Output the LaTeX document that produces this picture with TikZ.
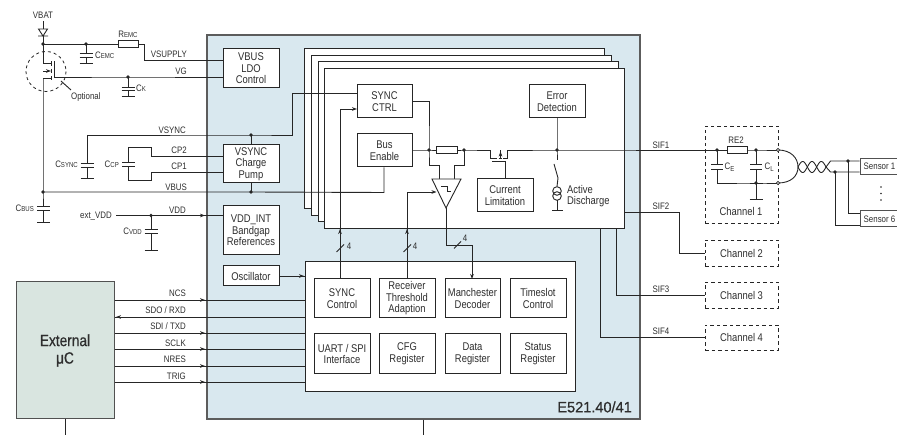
\documentclass[tikz,border=0pt]{standalone}
\usepackage{fontspec}
\setmainfont[FakeStretch=0.84]{Liberation Sans}
\newfontfamily\partfont[FakeStretch=0.97,FakeBold=0.7]{Liberation Sans}
\newfontfamily\ucfont[FakeStretch=0.84,FakeBold=0.6]{Liberation Sans}
\usetikzlibrary{arrows.meta}
\definecolor{ink}{HTML}{262626}
\definecolor{txt}{HTML}{2E2E2E}
\definecolor{chipblue}{HTML}{D9E8EF}
\definecolor{ucgreen}{HTML}{D9E5E0}
\newcommand\fbig{\fontsize{11.2}{11.6}\selectfont}
\newcommand\flab{\fontsize{9.4}{10}\selectfont}
\newcommand\fsub{\fontsize{7.2}{7}\selectfont}
\newcommand\capname[2]{#1{\fsub #2}}
\newcommand\lowname[2]{#1\raisebox{-1.5pt}{\fsub #2}}
% box by corners
\newcommand\bx[7][blockbox]{%
  \pgfmathsetmacro\bxw{#5-#3}\pgfmathsetmacro\bxh{#6-#4}%
  \pgfmathsetmacro\bxcx{(#5+#3)/2}\pgfmathsetmacro\bxcy{(#6+#4)/2}%
  \node[#1,minimum width=\bxw pt,minimum height=\bxh pt] (#2) at (\bxcx,\bxcy) {#7};}
\newcommand\jn[3]{\coordinate (#1) at (#2,#3); \fill[ink] (#1) circle (1.8);}
% capacitor to ground: x, start y, plate y1, plate y2, ground y, half width
\newcommand\capg[6]{\draw[wire] (#1,#2)--(#1,#3) ({#1-#6},#3)--({#1+#6},#3) ({#1-#6},#4)--({#1+#6},#4) (#1,#4)--(#1,#5) ({#1-#6},#5)--({#1+#6},#5);}
\tikzset{
  wire/.style={draw=ink,line width=0.9pt},
  blockbox/.style={draw=ink,line width=1pt,fill=white,align=center,inner sep=0pt,text=txt,font=\fbig},
  sheet/.style={draw=ink,line width=1pt,fill=white,inner sep=0pt},
  chan/.style={draw=ink,line width=0.9pt,dash pattern=on 3.5pt off 3pt,inner sep=0pt,align=center,text=txt,font=\fbig},
  sensorbox/.style={draw=ink!80,line width=1pt,fill=white,inner sep=0pt,text=txt,font=\flab},
  lab/.style={text=txt,font=\flab,inner sep=0pt},
  tip/.style={-{Stealth[length=5pt,width=3.6pt]},draw=ink,line width=0.9pt},
}
\begin{document}
\begin{tikzpicture}[x=1pt,y=-1pt]
\useasboundingbox (0,0) rectangle (897,435);
% background blocks
\bx[draw=ink!75,line width=1.1pt,fill=chipblue,inner sep=0pt]{chip}{207}{35}{640}{419}{}
\bx[draw=ink!80,line width=1pt,fill=ucgreen,inner sep=0pt,align=center,text=txt,font=\ucfont\fontsize{16.3}{17.5}\selectfont]{uc}{16}{282}{114}{419}{External\\μC}
\bx[sheet]{s1}{304}{49}{604}{209}{}
\bx[sheet]{s2}{311}{56}{611}{216}{}
\bx[sheet]{s3}{318}{62}{618}{222}{}
\bx[sheet]{s4}{324}{69}{624}{229}{}
\bx[sheet]{inner}{305}{262}{575}{392}{}
% coordinates and dots
\jn{jtop}{43}{44}\jn{jemc}{86}{44}\jn{jvg}{128}{77}\jn{jbus}{43}{192}
\jn{jsync}{251}{135}\jn{jvbus}{251}{192}\jn{jvdd}{151}{215.5}
\jn{ja}{429}{150}\jn{jb}{464}{150}\jn{jc}{557}{150}
\jn{jd}{717}{150}\jn{je}{756}{150}\jn{jf}{756}{183}
\jn{jg}{848}{161}\jn{jh}{835}{172}
% blocks on the chip
\bx{ldo}{223}{49}{279}{88}{VBUS\\LDO\\Control}
\bx{pump}{223}{145}{279}{183}{VSYNC\\Charge\\Pump}
\bx{vint}{223}{206}{279}{255}{VDD\_INT\\Bandgap\\References}
\bx{osc}{223}{266}{279}{286}{Oscillator}
\bx{sctrl}{357}{85}{412}{118}{SYNC\\CTRL}
\bx{busen}{357}{134}{412}{167}{Bus\\Enable}
\bx{err}{529}{85}{585}{118}{Error\\Detection}
\bx{curr}{477}{179}{533}{212}{Current\\Limitation}
\bx{b11}{314}{279}{370}{318}{SYNC\\Control}
\bx{b12}{379}{279}{435}{318}{Receiver\\Threshold\\Adaption}
\bx{b13}{445}{279}{500}{318}{Manchester\\Decoder}
\bx{b14}{510}{279}{566}{318}{Timeslot\\Control}
\bx{b21}{314}{334}{370}{374}{UART / SPI\\Interface}
\bx{b22}{379}{334}{435}{374}{CFG\\Register}
\bx{b23}{445}{334}{500}{374}{Data\\Register}
\bx{b24}{510}{334}{566}{374}{Status\\Register}
% channels and sensors
\bx[chan]{ch1}{705}{126}{778}{223}{}
\bx[chan]{ch2}{705}{240}{778}{266}{Channel 2}
\bx[chan]{ch3}{705}{282}{778}{308}{Channel 3}
\bx[chan]{ch4}{705}{325}{778}{350}{Channel 4}
\bx[sensorbox]{sen1}{860}{158.5}{899}{175}{Sensor 1}
\bx[sensorbox]{sen6}{860}{211}{899}{227}{Sensor 6}
% supply section
\coordinate (dtop) at (43,21);
\node[draw=ink,line width=0.9pt,fill=white,minimum width=20pt,minimum height=6.5pt,inner sep=0pt] (remc) at (128,44) {};
\draw[wire] (dtop)--(43,29) (43,36)--(jtop) -- (remc.west);
\draw[wire] (38.5,29)--(47.5,29)--(43,36)--cycle (38,36)--(48,36);
\draw[wire] (remc.east)--(144,44)--(144,60)--(ldo.west |- 144,60);
\capg{86}{44}{53.5}{57}{63}{6.5}
% FET
\draw[wire] (jtop)--(43,63.5)--(51.5,63.5);
\draw[wire] (51.5,61.5)--(51.5,66) (51.5,69)--(51.5,73) (51.5,76)--(51.5,80);
\draw[wire] (54,61)--(54,77)--(jvg)--(ldo.west |- jvg);
\draw[wire] (43,78)--(51.5,78) (43,78)--(jbus)--(43,206);
\draw[tip] (43,71)--(51,71);
\draw[draw=ink,line width=0.8pt,dash pattern=on 3pt off 3pt] (46,71.5) circle (20);
\coordinate (optA) at (61,81); \coordinate (optB) at (71,90);
\draw[wire] (optA)--(optB);
\capg{128}{77}{87}{90.5}{96.5}{6.5}
% VSYNC
\draw[wire] (87,163)--(87,135)--(jsync)--(292,135)--(292,93)--(sctrl.west |- 292,93);
\draw[wire] (jsync)--(pump.north -| jsync);
\capg{87}{135}{163}{167}{178}{6.5}
% Charge pump capacitor
\draw[wire] (pump.west |- 223,156)--(151,156)--(151,147)--(128,147)--(128,162);
\draw[wire] (pump.west |- 223,172)--(151,172)--(151,180)--(128,180)--(128,166);
\draw[wire] (122,162)--(135,162) (122,166)--(135,166);
% VBUS
\draw[wire] (jbus)--(jvbus)--(384,192.5)--(busen.south -| 384,192);
\draw[wire] (jvbus)--(pump.south -| jvbus);
\draw[wire] (37,206)--(50,206) (37,210.5)--(50,210.5) (43,210.5)--(43,222) (37,222)--(50,222);
% VDD
\coordinate (evdd) at (116,215.5);
\draw[wire] (evdd)--(jvdd)--(vint.west |- jvdd);
\draw[tip] (199,215.5)--(205,215.5);
\capg{151}{215.5}{229}{233}{250}{6.5}
% oscillator
\draw[wire] (osc.east)--(inner.west |- osc.east);
\draw[tip] (298,276)--(304,276);
% bus to microcontroller
\foreach \yy in {300,333,349,366,382}{
  \draw[wire] (uc.east |- 114,\yy)--(inner.west |- 305,\yy);
  \draw[tip] (199,\yy)--(205,\yy);
}
\draw[wire] (inner.west |- 305,317)--(uc.east |- 114,317);
\draw[tip] (122,317)--(116,317);
% lower ties
\coordinate (ucb) at (65,435); \draw[wire] (uc.south)--(ucb);
\coordinate (chb) at (423,435); \draw[wire] (chip.south -| chb)--(chb);
% SIF1 path
\draw[wire] (busen.east |- ja)--(ja)--(436,150);
\node[draw=ink,line width=0.9pt,fill=white,minimum width=21pt,minimum height=7pt,inner sep=0pt] (rsense) at (446.5,150) {};
\draw[wire] (rsense.east)--(jb)--(490,150)--(490,158)--(497,158);
\draw[wire] (498.5,158)--(501.5,158) (503,158)--(507,158)--(507,150)--(jc)--(jd);
\draw[wire] (500.5,158)--(500.5,150);
\draw[wire] (492,161.5)--(505,161.5)--(curr.north -| 505,161);
\draw[tip] (500.5,156)--(500.5,151.5);
% comparator
\draw[wire] (sctrl.east |- 412,101)--(429,101)--(ja)--(429,165)--(439,165)--(439,179);
\draw[wire] (jb)--(464,165)--(454.5,165)--(454.5,179);
\draw[wire,fill=white] (432,179)--(461,179)--(446,208)--cycle;
\coordinate (cmpin) at (436.5,192);
\coordinate (cmpout) at (446,208);
\draw[wire] (441,186)--(447,186)--(447,191)--(451,191);
\draw[wire] (cmpout)--(446,245)--(472,245)--(472,274);
\draw[tip] (472,272)--(472,279);
\draw[wire] (454,248.5)--(461,241.5);
\node[lab] (n3) at (465,238) {4};
% control lines
\draw[wire] (b11.north -| 340,279)--(340,109)--(352,109);
\draw[tip] (350,109)--(357,109);
\draw[tip] (340,235)--(340,229);
\draw[wire] (336.5,252)--(344,244.5);
\node[lab] (n1) at (349,246) {4};
\draw[wire] (b12.north -| 407,279)--(407,192)--(430,192);
\draw[tip] (430,192)--(cmpin);
\draw[tip] (407,235)--(407,229);
\draw[wire] (403.5,252)--(411,244.5);
\node[lab] (n2) at (415,246) {4};
% error + discharge
\draw[wire] (err.south -| jc)--(jc)--(557,160);
\draw[wire] (554,164)--(558,178)--(557,186.5);
\draw[wire] (557,191) circle (4.3) (557,196) circle (4.3);
\draw[wire] (557,200.3)--(557,210) (552,210)--(563,210);
% SIF 2..4
\draw[wire] (s4.east |- 624,212)--(679,212)--(679,253)--(ch2.west);
\draw[wire] (s4.south -| 616,229)--(616,295)--(ch3.west);
\draw[wire] (s4.south -| 600,229)--(600,337)--(ch4.west |- 705,337);
% channel 1
\node[draw=ink,line width=0.9pt,fill=white,minimum width=20pt,minimum height=6.5pt,inner sep=0pt] (re2) at (737,150) {};
\draw[wire] (jd)--(re2.west) (re2.east)--(je)--(778,150);
\draw[wire] (jd)--(717,164) (711,164)--(723,164) (711,169)--(723,169) (717,169)--(717,183)--(jf)--(778,183);
\draw[wire] (je)--(756,164) (750,164)--(762,164) (750,169)--(762,169) (756,169)--(jf);
\capg{756}{183}{183}{183}{199}{6.5}
\draw[wire] (778,150) .. controls (791,150) and (798,158) .. (798,167) .. controls (798,176) and (791,183) .. (778,183);
\fill[white] (778,150) circle (1.6) (778,183) circle (1.6);
\draw[draw=ink,line width=0.6pt] (778,150) circle (1.6) (778,183) circle (1.6);
% twisted pair
\draw[wire,smooth] plot[domain=0:28,samples=50] ({798+\x},{167-5.5*sin(\x*180/9.33)});
\draw[wire,smooth] plot[domain=0:28,samples=50] ({798+\x},{167+5.5*sin(\x*180/9.33)});
\draw[wire] (826,167)--(830.5,161)--(jg)--(sen1.west |- jg);
\draw[wire] (826,167)--(830.5,172)--(jh)--(sen1.west |- jh);
\draw[wire] (jg)--(848,213)--(sen6.west |- 848,213);
\draw[wire] (jh)--(835,225)--(sen6.west |- 835,225);
\fill[ink] (881,187) circle (0.8) (881,193.5) circle (0.8) (881,200) circle (0.8);
% labels
\node[lab] (tvbat) at (43,15) {VBAT};
\node[lab] (tremc) at (128,34) {\capname{R}{EMC}};
\node[lab,anchor=west] (tcemc) at (95,55.5) {\capname{C}{EMC}};
\node[lab,anchor=west] (tck) at (136,88) {\capname{C}{K}};
\node[lab,anchor=west] (topt) at (71,97.5) {Optional};
\node[lab,anchor=east] (tvsup) at (187,54.5) {VSUPPLY};
\node[lab,anchor=east] (tvg) at (187,71) {VG};
\node[lab,anchor=east] (tvsync) at (186,130) {VSYNC};
\node[lab,anchor=east] (tcp2) at (187,150) {CP2};
\node[lab,anchor=east] (tcp1) at (187,166) {CP1};
\node[lab,anchor=east] (tvbus) at (187,187) {VBUS};
\node[lab,anchor=east] (tvdd) at (186,210) {VDD};
\node[lab,anchor=east] (tcsync) at (78,164.5) {\capname{C}{SYNC}};
\node[lab,anchor=east] (tccp) at (119,164) {\capname{C}{CP}};
\node[lab,anchor=east] (tcbus) at (34,208.5) {\capname{C}{BUS}};
\node[lab,anchor=east] (tevdd) at (112,216) {ext\_VDD};
\node[lab,anchor=east] (tcvdd) at (142,231) {\capname{C}{VDD}};
\node[lab,anchor=east] (tncs) at (186,293.5) {NCS};
\node[lab,anchor=east] (tsdo) at (186,310) {SDO / RXD};
\node[lab,anchor=east] (tsdi) at (186,326.5) {SDI / TXD};
\node[lab,anchor=east] (tsclk) at (186,343) {SCLK};
\node[lab,anchor=east] (tnres) at (186,359) {NRES};
\node[lab,anchor=east] (ttrig) at (186,376) {TRIG};
\node[lab,font=\fbig,anchor=west,align=left] (tact) at (567,196) {Active\\Discharge};
\node[lab] (tsif1) at (661,145) {SIF1};
\node[lab] (tsif2) at (661,206) {SIF2};
\node[lab] (tsif3) at (661,289) {SIF3};
\node[lab] (tsif4) at (661,331) {SIF4};
\node[lab] (tre2) at (736,140) {RE2};
\node[lab,anchor=west] (tce) at (724.5,167) {\lowname{C}{E}};
\node[lab,anchor=west] (tcl) at (764.5,167) {\lowname{C}{L}};
\node[lab,font=\fbig] (tch1) at (741,211) {Channel 1};
\node[lab,font=\partfont\fontsize{15}{16}\selectfont,anchor=east] (tpart) at (632,407) {E521.40/41};
\end{tikzpicture}
\end{document}
